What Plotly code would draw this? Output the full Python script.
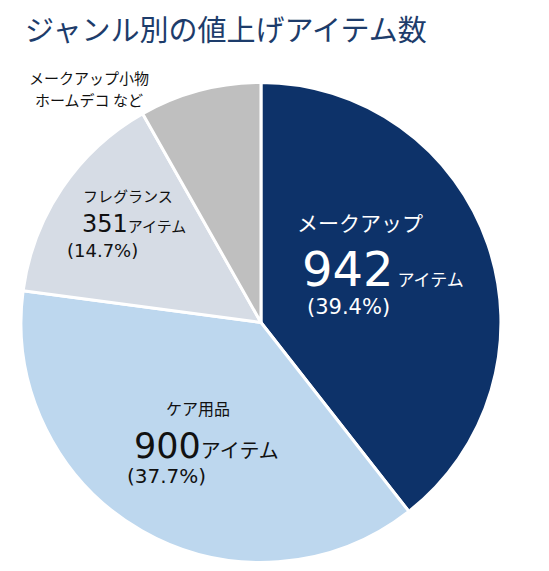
import plotly.graph_objects as go

# ジャンル別の値上げアイテム数
genres = ["メークアップ", "ケア用品", "フレグランス", "メークアップ小物<br>ホームデコ など"]
items = [942, 900, 351, 196]
shares = ["39.4%", "37.7%", "14.7%", "8.2%"]
colors = ["#0d3269", "#bdd7ee", "#d6dce5", "#bfbfbf"]

JP = "Noto Sans CJK JP"
NUM = "DejaVu Sans"

fig = go.Figure()
fig.add_trace(go.Pie(
    labels=genres,
    values=items,
    sort=False,
    direction="clockwise",
    rotation=0,
    marker=dict(colors=colors, line=dict(color="white", width=3)),
    textinfo="none",
    hoverinfo="label+value",
    showlegend=False,
    domain=dict(x=[0.0108, 0.9108], y=[0.029, 0.8695]),
))

anns = []


def label(x, y, text, size, color, family=JP, xanchor="center"):
    anns.append(dict(x=x / 549, y=1 - y / 571, xref="paper", yref="paper", text=text,
                     showarrow=False, xanchor=xanchor, yanchor="middle",
                     font=dict(family=family, size=size, color=color)))


def unit(size, gap=""):
    return f"<span style='font-family:{JP};font-size:{size}px'>{gap}アイテム</span>"


# メークアップ
label(287, 214, genres[0], 21, "white", xanchor="left")
label(292, 261, f"{items[0]}" + unit(17, " "), 48, "white", NUM, "left")
label(297, 299, f"({shares[0]})", 21, "white", NUM, "left")

# ケア用品
label(190, 400, genres[1], 16, "#111111")
label(124, 438, f"{items[1]}" + unit(20), 35, "#111111", NUM, "left")
label(117, 468, f"({shares[1]})", 20, "#111111", NUM, "left")

# フレグランス
label(120, 187, genres[2], 15, "#111111")
label(72, 216, f"{items[2]}" + unit(15), 24, "#111111", NUM, "left")
label(57, 242, f"({shares[2]})", 18, "#111111", NUM, "left")

# その他（メークアップ小物・ホームデコ など）
for i, line in enumerate(genres[3].split("<br>")):
    label(81, 70 + 22 * i, line, 15, "#111111")

fig.update_layout(
    width=549, height=571,
    margin=dict(l=0, r=0, t=0, b=0),
    paper_bgcolor="white",
    title=dict(text="ジャンル別の値上げアイテム数", x=0.031, xanchor="left",
               y=1 - 23 / 571, yanchor="middle",
               font=dict(family=JP, size=29, color="#1d3c6b")),
    annotations=anns,
)

fig.write_html("out.html")
